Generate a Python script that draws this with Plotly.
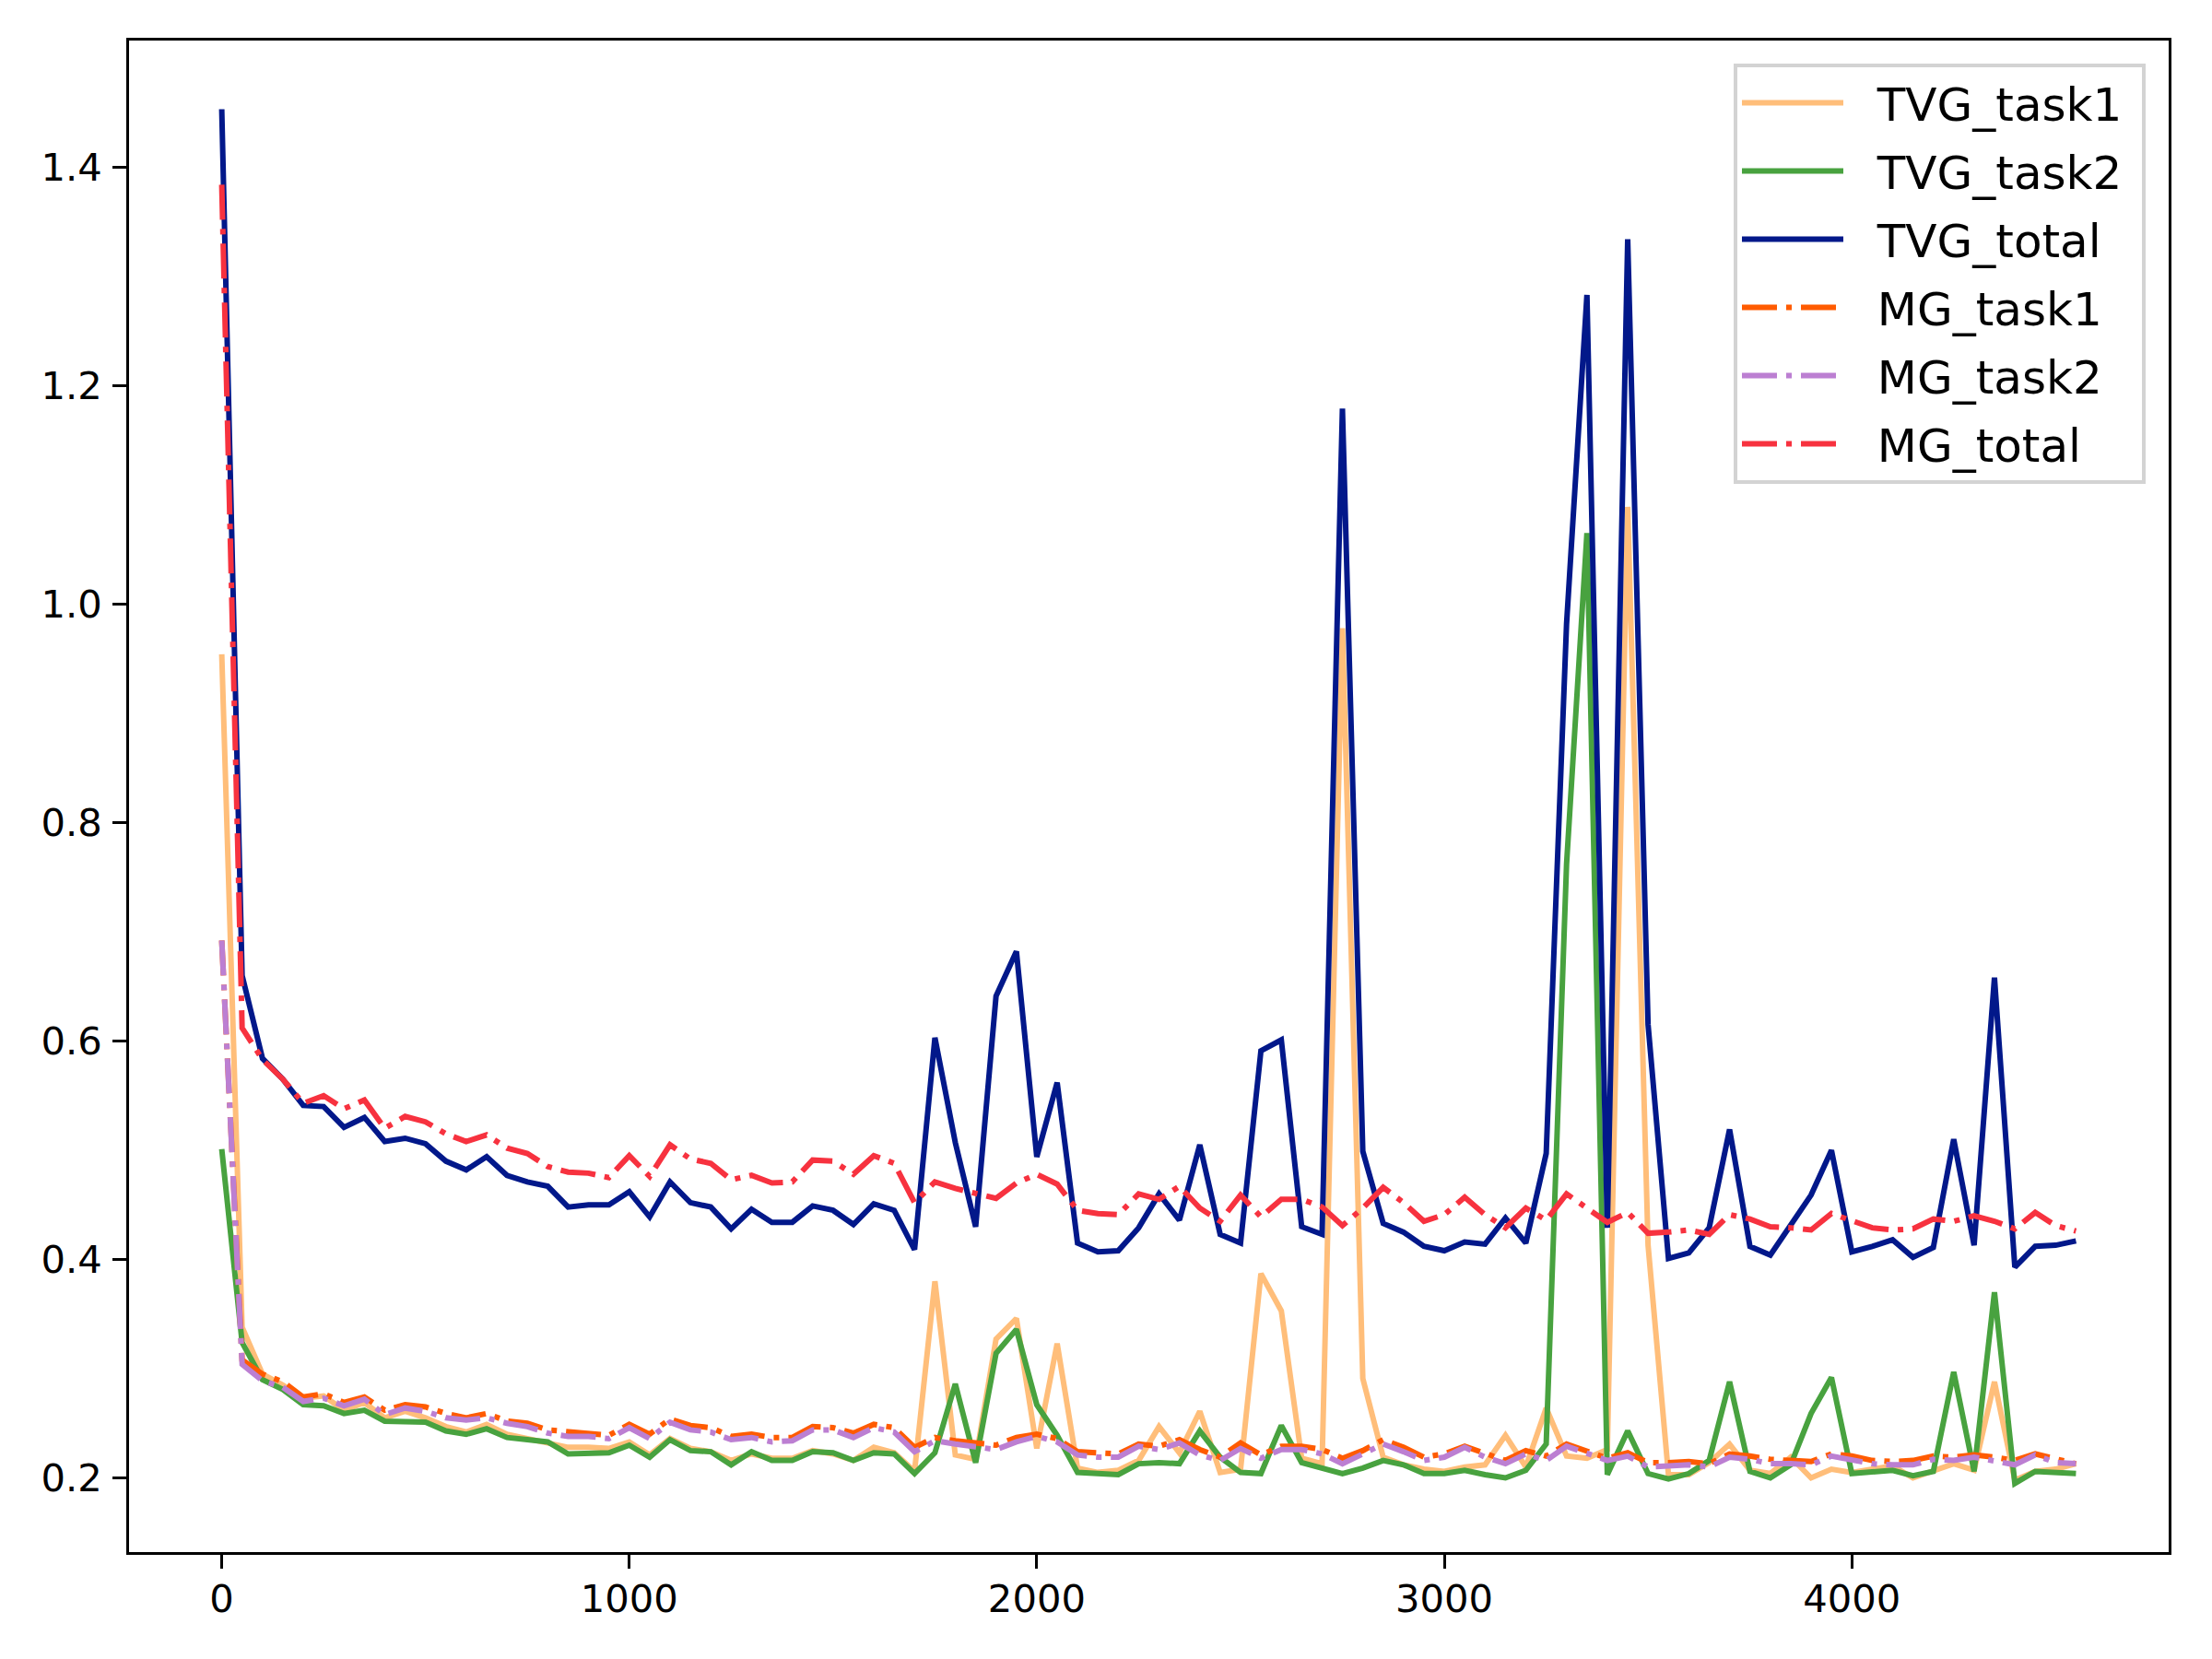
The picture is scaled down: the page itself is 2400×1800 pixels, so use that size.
import plotly.graph_objects as go

steps = list(range(0, 4551, 50))

tvg_task1 = [0.954, 0.338, 0.295, 0.285, 0.273, 0.275, 0.262, 0.269, 0.255, 0.261,
             0.255, 0.247, 0.242, 0.249, 0.240, 0.236, 0.233, 0.228, 0.228, 0.227,
             0.233, 0.221, 0.236, 0.227, 0.224, 0.216, 0.222, 0.218, 0.218, 0.225,
             0.222, 0.216, 0.228, 0.223, 0.206, 0.380, 0.221, 0.217, 0.327, 0.346,
             0.227, 0.323, 0.209, 0.205, 0.207, 0.216, 0.247, 0.223, 0.261, 0.205,
             0.208, 0.387, 0.353, 0.218, 0.213, 0.978, 0.291, 0.219, 0.212, 0.208,
             0.206, 0.210, 0.212, 0.239, 0.210, 0.264, 0.220, 0.218, 0.226, 1.089,
             0.413, 0.203, 0.203, 0.214, 0.231, 0.207, 0.204, 0.219, 0.200, 0.208,
             0.205, 0.208, 0.211, 0.200, 0.206, 0.213, 0.207, 0.288, 0.198, 0.206,
             0.208, 0.213]

tvg_task2 = [0.501, 0.324, 0.290, 0.281, 0.267, 0.266, 0.259, 0.262, 0.252, 0.252,
             0.251, 0.243, 0.240, 0.245, 0.237, 0.235, 0.233, 0.222, 0.222, 0.223,
             0.230, 0.219, 0.235, 0.225, 0.224, 0.212, 0.224, 0.216, 0.216, 0.224,
             0.223, 0.216, 0.223, 0.222, 0.204, 0.223, 0.286, 0.214, 0.314, 0.336,
             0.267, 0.239, 0.205, 0.204, 0.203, 0.213, 0.214, 0.213, 0.243, 0.219,
             0.205, 0.204, 0.248, 0.214, 0.209, 0.204, 0.209, 0.216, 0.212, 0.204,
             0.204, 0.207, 0.203, 0.200, 0.207, 0.231, 0.762, 1.065, 0.203, 0.243,
             0.204, 0.199, 0.204, 0.216, 0.288, 0.206, 0.200, 0.212, 0.259, 0.292,
             0.204, 0.206, 0.207, 0.202, 0.206, 0.297, 0.206, 0.370, 0.195, 0.206,
             0.205, 0.204]

tvg_total = [1.453, 0.660, 0.584, 0.565, 0.541, 0.540, 0.521, 0.530, 0.508, 0.511,
             0.506, 0.490, 0.482, 0.494, 0.477, 0.471, 0.467, 0.448, 0.450, 0.450,
             0.462, 0.439, 0.471, 0.452, 0.448, 0.428, 0.446, 0.434, 0.434, 0.449,
             0.445, 0.432, 0.451, 0.445, 0.409, 0.603, 0.507, 0.430, 0.641, 0.682,
             0.494, 0.562, 0.415, 0.407, 0.408, 0.429, 0.460, 0.436, 0.505, 0.423,
             0.415, 0.591, 0.601, 0.430, 0.423, 1.179, 0.499, 0.433, 0.425, 0.412,
             0.408, 0.416, 0.414, 0.438, 0.415, 0.497, 0.982, 1.283, 0.429, 1.334,
             0.615, 0.401, 0.406, 0.429, 0.519, 0.412, 0.404, 0.431, 0.459, 0.500,
             0.407, 0.412, 0.418, 0.402, 0.411, 0.510, 0.413, 0.658, 0.393, 0.412,
             0.413, 0.417]

mg_task1 = [0.692, 0.308, 0.295, 0.288, 0.274, 0.277, 0.269, 0.274, 0.262, 0.267,
            0.265, 0.259, 0.255, 0.259, 0.252, 0.250, 0.244, 0.242, 0.241, 0.239,
            0.249, 0.240, 0.254, 0.248, 0.246, 0.238, 0.240, 0.237, 0.237, 0.247,
            0.246, 0.241, 0.249, 0.246, 0.228, 0.237, 0.234, 0.232, 0.230, 0.237,
            0.240, 0.236, 0.224, 0.223, 0.222, 0.231, 0.229, 0.235, 0.226, 0.219,
            0.232, 0.221, 0.229, 0.229, 0.226, 0.218, 0.225, 0.235, 0.228, 0.219,
            0.222, 0.229, 0.222, 0.216, 0.225, 0.220, 0.231, 0.225, 0.218, 0.223,
            0.214, 0.214, 0.215, 0.213, 0.222, 0.220, 0.217, 0.216, 0.215, 0.222,
            0.220, 0.216, 0.215, 0.216, 0.220, 0.219, 0.221, 0.219, 0.216, 0.222,
            0.217, 0.213]

mg_task2 = [0.692, 0.304, 0.289, 0.283, 0.270, 0.273, 0.266, 0.272, 0.258, 0.264,
            0.261, 0.255, 0.253, 0.255, 0.250, 0.247, 0.241, 0.238, 0.238, 0.236,
            0.246, 0.236, 0.251, 0.244, 0.242, 0.235, 0.237, 0.233, 0.234, 0.244,
            0.244, 0.237, 0.246, 0.242, 0.224, 0.234, 0.231, 0.228, 0.226, 0.233,
            0.238, 0.233, 0.221, 0.219, 0.219, 0.229, 0.226, 0.232, 0.221, 0.216,
            0.227, 0.218, 0.226, 0.226, 0.222, 0.213, 0.222, 0.231, 0.224, 0.216,
            0.219, 0.228, 0.219, 0.213, 0.222, 0.216, 0.229, 0.222, 0.216, 0.220,
            0.210, 0.211, 0.212, 0.210, 0.219, 0.217, 0.213, 0.213, 0.212, 0.220,
            0.216, 0.213, 0.212, 0.212, 0.217, 0.216, 0.219, 0.216, 0.212, 0.221,
            0.214, 0.213]

mg_total = [1.384, 0.612, 0.583, 0.565, 0.543, 0.550, 0.538, 0.546, 0.520, 0.531,
            0.526, 0.515, 0.508, 0.514, 0.502, 0.497, 0.485, 0.480, 0.479, 0.475,
            0.495, 0.476, 0.505, 0.492, 0.488, 0.473, 0.477, 0.470, 0.471, 0.491,
            0.490, 0.478, 0.495, 0.488, 0.452, 0.471, 0.465, 0.460, 0.456, 0.470,
            0.478, 0.469, 0.445, 0.442, 0.441, 0.460, 0.455, 0.467, 0.447, 0.435,
            0.459, 0.439, 0.455, 0.455, 0.448, 0.431, 0.447, 0.466, 0.452, 0.435,
            0.441, 0.457, 0.441, 0.429, 0.447, 0.436, 0.460, 0.447, 0.434, 0.443,
            0.424, 0.425, 0.427, 0.423, 0.441, 0.437, 0.430, 0.429, 0.427, 0.442,
            0.436, 0.429, 0.427, 0.428, 0.437, 0.435, 0.440, 0.435, 0.428, 0.443,
            0.431, 0.426]

x_ticks = [0, 1000, 2000, 3000, 4000]
y_ticks = [0.2, 0.4, 0.6, 0.8, 1.0, 1.2, 1.4]
y_tick_labels = ["0.2", "0.4", "0.6", "0.8", "1.0", "1.2", "1.4"]

series = [
    ("TVG_task1", tvg_task1, "#FFBE7A", "solid"),
    ("TVG_task2", tvg_task2, "#48A23F", "solid"),
    ("TVG_total", tvg_total, "#02188A", "solid"),
    ("MG_task1", mg_task1, "#FF5B00", "38px,10px,6px,10px"),
    ("MG_task2", mg_task2, "#BC7FD2", "38px,10px,6px,10px"),
    ("MG_total", mg_total, "#F7323F", "38px,10px,6px,10px"),
]

NB = "\u00a0"
LW = 6
fig = go.Figure()
for name, vals, color, dash in series:
    fig.add_trace(go.Scatter(
        x=steps, y=vals, name=NB * 2 + name + NB, mode="lines",
        legendgroup=name,
        line=dict(color=color, width=LW, dash=dash),
    ))

# matplotlib-like 5% margins
xmin, xmax = min(steps), max(steps)
allv = tvg_task1 + tvg_task2 + tvg_total + mg_task1 + mg_task2 + mg_total
ymin, ymax = min(allv), max(allv)
xpad = 0.05 * (xmax - xmin)
ypad = 0.05 * (ymax - ymin)

font_family = "DejaVu Sans"
axis_common = dict(
    showline=True, linecolor="black", linewidth=3.3, mirror=True,
    ticks="outside", ticklen=14.6, tickwidth=3.3, tickcolor="black",
    showgrid=False, zeroline=False,
    tickfont=dict(family=font_family, size=41.7, color="black"),
)

# the page body has an 8px default margin; size the figure to fit the window
fig.update_layout(
    width=2392, height=1792,
    margin=dict(l=132, r=47, t=36, b=116),
    paper_bgcolor="white", plot_bgcolor="white",
    xaxis=dict(range=[xmin - xpad, xmax + xpad], tickvals=x_ticks,
               ticklabelstandoff=-3, **axis_common),
    yaxis=dict(range=[ymin - ypad, ymax + ypad], tickvals=y_ticks,
               ticktext=y_tick_labels, ticklabelstandoff=3, **axis_common),
    legend=dict(
        x=0.9887, y=0.985, xanchor="right", yanchor="top",
        bgcolor="rgba(255,255,255,0.8)", bordercolor="#d3d3d3", borderwidth=4,
        font=dict(family=font_family, size=50, color="black"),
        itemwidth=110, tracegroupgap=6,
    ),
    showlegend=True,
)

fig.write_html("out.html")
